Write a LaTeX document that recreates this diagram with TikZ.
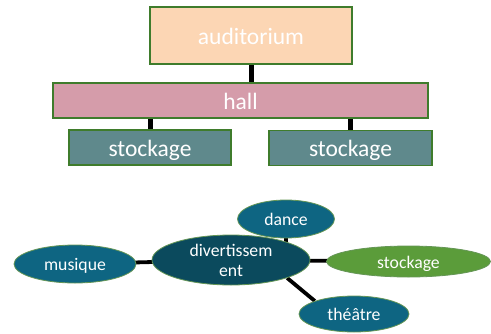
\documentclass[tikz,border=0pt]{standalone}
\usepackage{fontspec}
\setmainfont{Carlito}
\usetikzlibrary{shapes.geometric,backgrounds}
\definecolor{peach}{HTML}{FCD6B4}
\definecolor{rose}{HTML}{D59CAA}
\definecolor{slate}{HTML}{5F898C}
\definecolor{edgegreen}{HTML}{3F7C2C}
\definecolor{petrol}{HTML}{0E6582}
\definecolor{deeppetrol}{HTML}{0B4A5D}
\definecolor{leaf}{HTML}{5B9C3A}
\tikzset{
  box/.style={draw=edgegreen, line width=1.6pt, text=white, inner sep=0pt,
    text height=17pt, text depth=0pt,
    font=\fontsize{23.5}{28}\selectfont},
  bubble/.style={ellipse, draw=edgegreen!80!white, line width=0.8pt, text=white,
    inner sep=0pt, align=center, font=\fontsize{17.7}{20}\selectfont},
  oneline/.style={text height=13pt, text depth=0pt},
  stem/.style={line width=5pt, black},
  spoke/.style={line width=3.8pt, black},
}
\begin{document}
\begin{tikzpicture}[x=1pt, y=-1pt]
  \useasboundingbox (0,0) rectangle (491,333);
  % hierarchy
  \node[box, fill=peach, minimum width=202pt, minimum height=57pt] (aud) at (251,35.5) {auditorium};
  \node[box, fill=rose, minimum width=375pt, minimum height=35pt] (hall) at (240.5,100.5) {hall};
  \node[box, fill=slate, minimum width=162pt, minimum height=35pt] (stl) at (150,147.5) {stockage};
  \node[box, fill=slate, minimum width=163pt, minimum height=35pt] (str) at (350.5,148) {stockage};
  % mind map
  \node[bubble, oneline, fill=petrol, minimum width=97pt, minimum height=38pt] (dance) at (286,219) {dance};
  \node[bubble, fill=deeppetrol, minimum width=158pt, minimum height=50pt] (div) at (231,260) {divertissem\\ent};
  \node[bubble, oneline, fill=petrol, minimum width=122pt, minimum height=38pt] (mus) at (75,264) {musique};
  \node[bubble, oneline, fill=leaf, minimum width=164pt, minimum height=31pt] (stk) at (408.5,261.5) {stockage};
  \node[bubble, oneline, fill=petrol, minimum width=110pt, minimum height=36pt] (th) at (354,314) {théâtre};
  \begin{scope}[on background layer]
    \draw[stem] (aud.south) -- (aud.south |- hall.north);
    \draw[stem] (stl.north) -- (stl.north |- hall.south);
    \draw[stem] (str.north) -- (str.north |- hall.south);
    \draw[spoke] (dance.center) -- (dance.center |- div.center);
    \draw[spoke] (mus.center) -- (div.center);
    \draw[spoke] (div.center) -- (stk.center);
    \draw[spoke] (div.south east) -- (th.north west);
  \end{scope}
\end{tikzpicture}
\end{document}
